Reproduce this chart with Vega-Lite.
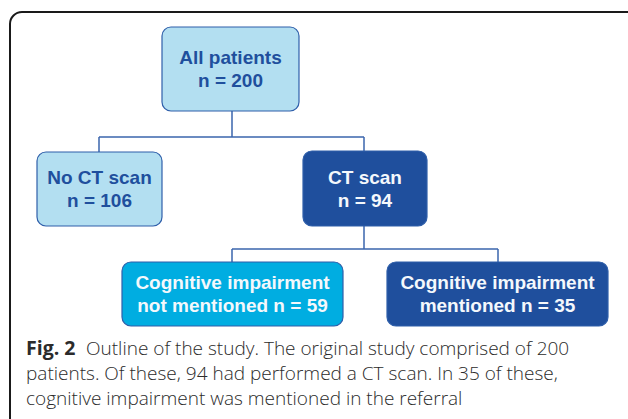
{
  "$schema": "https://vega.github.io/schema/vega-lite/v6.json",
  "width": 628,
  "height": 419,
  "padding": 0,
  "autosize": {"type": "fit", "contains": "padding"},
  "background": "white",
  "config": {"view": {"stroke": null}},
  "datasets": {
    "frame": [{"x": 10, "x2": 720, "y": 12, "y2": 520}],
    "links": [
      {"x": 232, "x2": 232, "y": 111, "y2": 137},
      {"x": 99, "x2": 364, "y": 137, "y2": 137},
      {"x": 99, "x2": 99, "y": 137, "y2": 152},
      {"x": 364, "x2": 364, "y": 137, "y2": 151},
      {"x": 364, "x2": 364, "y": 226, "y2": 249},
      {"x": 232, "x2": 498, "y": 249, "y2": 249},
      {"x": 232, "x2": 232, "y": 249, "y2": 262},
      {"x": 498, "x2": 498, "y": 249, "y2": 262}
    ],
    "boxes": [
      {"id": "all", "kind": "light", "x": 162, "x2": 299, "y": 27, "y2": 111, "label": ["All patients", "n = 200"]},
      {"id": "noct", "kind": "light", "x": 37, "x2": 162, "y": 152, "y2": 226, "label": ["No CT scan", "n = 106"]},
      {"id": "ct", "kind": "dark", "x": 303, "x2": 427, "y": 151, "y2": 226, "label": ["CT scan", "n = 94"]},
      {"id": "cinot", "kind": "cyan", "x": 122, "x2": 343, "y": 262, "y2": 326, "label": ["Cognitive impairment", "not mentioned n = 59"]},
      {"id": "cimen", "kind": "dark", "x": 387, "x2": 608, "y": 262, "y2": 326, "label": ["Cognitive impairment", "mentioned n = 35"]}
    ],
    "captionBold": [
      {"x": 26, "y": 349, "t": "Fig. 2"}
    ],
    "caption": [
      {"x": 86, "y": 349, "t": "Outline of the study. The original study comprised of 200"},
      {"x": 26, "y": 374, "t": "patients. Of these, 94 had performed a CT scan. In 35 of these,"},
      {"x": 26, "y": 399, "t": "cognitive impairment was mentioned in the referral"}
    ]
  },
  "layer": [
    {
      "data": {"name": "frame"},
      "mark": {"type": "rect", "fill": null, "stroke": "#1a1a1a", "strokeWidth": 2, "cornerRadius": 12, "clip": true},
      "encoding": {
        "x": {"field": "x", "type": "quantitative", "scale": {"domain": [0, 628], "nice": false, "zero": false}, "axis": null},
        "x2": {"field": "x2"},
        "y": {"field": "y", "type": "quantitative", "scale": {"domain": [0, 419], "nice": false, "zero": false, "reverse": true}, "axis": null},
        "y2": {"field": "y2"}
      }
    },
    {
      "data": {"name": "links"},
      "mark": {"type": "rule", "color": "#3a64ad", "strokeWidth": 1.5},
      "encoding": {
        "x": {"field": "x", "type": "quantitative"},
        "x2": {"field": "x2"},
        "y": {"field": "y", "type": "quantitative"},
        "y2": {"field": "y2"}
      }
    },
    {
      "data": {"name": "boxes"},
      "mark": {"type": "rect", "stroke": "#2f5faa", "strokeWidth": 1.2, "cornerRadius": 9},
      "encoding": {
        "x": {"field": "x", "type": "quantitative"},
        "x2": {"field": "x2"},
        "y": {"field": "y", "type": "quantitative"},
        "y2": {"field": "y2"},
        "fill": {"field": "kind", "type": "nominal", "scale": {"domain": ["light", "dark", "cyan"], "range": ["#b3dff1", "#1f4f9d", "#00ade1"]}, "legend": null}
      }
    },
    {
      "data": {"name": "boxes"},
      "transform": [{"calculate": "(datum.x + datum.x2) / 2", "as": "cx"}, {"calculate": "(datum.y + datum.y2) / 2", "as": "cy"}],
      "mark": {"type": "text", "font": "Liberation Sans", "fontWeight": "bold", "fontSize": 19, "lineHeight": 23, "dy": -11, "align": "center", "baseline": "middle"},
      "encoding": {
        "x": {"field": "cx", "type": "quantitative"},
        "y": {"field": "cy", "type": "quantitative"},
        "text": {"field": "label"},
        "color": {"field": "kind", "type": "nominal", "scale": {"domain": ["light", "dark", "cyan"], "range": ["#1f4f9d", "#f4f8fc", "#f4f8fc"]}, "legend": null}
      }
    },
    {
      "data": {"name": "captionBold"},
      "mark": {"type": "text", "font": "Open Sans", "fontSize": 19.5, "fontWeight": "bold", "align": "left", "baseline": "middle", "color": "#2b2b2b"},
      "encoding": {
        "x": {"field": "x", "type": "quantitative"},
        "y": {"field": "y", "type": "quantitative"},
        "text": {"field": "t"}
      }
    },
    {
      "data": {"name": "caption"},
      "mark": {"type": "text", "font": "Open Sans", "fontSize": 19, "fontWeight": 300, "align": "left", "baseline": "middle", "color": "#2b2b2b"},
      "encoding": {
        "x": {"field": "x", "type": "quantitative"},
        "y": {"field": "y", "type": "quantitative"},
        "text": {"field": "t"}
      }
    }
  ]
}
